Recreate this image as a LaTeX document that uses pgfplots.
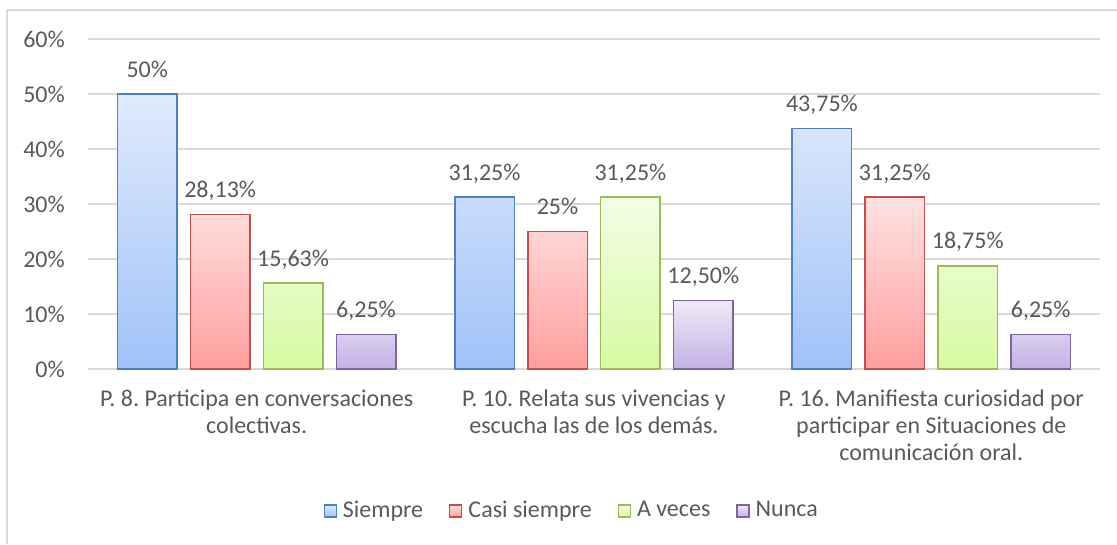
\documentclass[border=0pt]{standalone}
\usepackage{pgfplots}
\pgfplotsset{compat=1.18}
\usepackage{fontspec}
\setmainfont{Carlito}
\frenchspacing

\definecolor{txtgray}{RGB}{89,89,89}
\definecolor{gridgray}{RGB}{217,217,217}
\definecolor{bluel}{RGB}{224,234,252}
\definecolor{blued}{RGB}{160,194,249}
\definecolor{blueb}{RGB}{79,129,189}
\definecolor{redl}{RGB}{255,226,226}
\definecolor{redd}{RGB}{255,158,158}
\definecolor{redb}{RGB}{192,80,77}
\definecolor{greenl}{RGB}{243,253,231}
\definecolor{greend}{RGB}{214,250,163}
\definecolor{greenb}{RGB}{155,187,89}
\definecolor{purplel}{RGB}{239,235,247}
\definecolor{purpled}{RGB}{195,177,228}
\definecolor{purpleb}{RGB}{128,100,162}

\begin{document}
\fontsize{24}{27}\selectfont
\begin{tikzpicture}
\begin{axis}[
    at={(0pt,0pt)}, anchor=south west,
    scale only axis,
    width=1012pt, height=330pt,
    xmin=-0.5, xmax=2.5,
    ymin=0, ymax=60,
    ybar=13.4pt,
    bar width=59.5pt,
    axis line style={draw=none},
    major tick length=0pt,
    ytick={0,10,...,60},
    yticklabels={0\%,10\%,20\%,30\%,40\%,50\%,60\%},
    xtick={0,1,2},
    xticklabels={
        {P. 8. Participa en conversaciones\\colectivas.},
        {P. 10. Relata sus vivencias y\\escucha las de los demás.},
        {P. 16. Manifiesta curiosidad por\\participar en Situaciones de\\comunicación oral.}
    },
    tick label style={font=\fontsize{24}{27}\selectfont, text=txtgray, inner sep=0pt},
    yticklabel style={xshift=-23pt},
    xticklabel style={align=center, yshift=-21pt},
    ymajorgrids,
    grid style={gridgray, line width=1.4pt},
    nodes near coords,
    point meta=explicit symbolic,
    every node near coord/.append style={font=\fontsize{24}{27}\selectfont, text=txtgray, anchor=base, inner sep=0pt, yshift=17pt},
    legend columns=4,
    legend style={at={(0.478,-0.43)}, anchor=center, draw=none, fill=none,
        font=\fontsize{24}{27}\selectfont, text=txtgray,
        /tikz/every odd column/.append style={column sep=4pt},
        /tikz/every even column/.append style={column sep=24pt},
        inner sep=0pt},
    legend image code/.code={\draw[#1, line width=1.3pt] (0pt,-6pt) rectangle (12pt,6pt);},
    clip=false,
]
\addplot[draw=blueb, line width=1.5pt, top color=bluel, bottom color=blued] coordinates {
    (0,50) [50\%]
    (1,31.25) [31,25\%]
    (2,43.75) [43,75\%]
};
\addplot[draw=redb, line width=1.5pt, top color=redl, bottom color=redd] coordinates {
    (0,28.13) [28,13\%]
    (1,25) [25\%]
    (2,31.25) [31,25\%]
};
\addplot[draw=greenb, line width=1.5pt, top color=greenl, bottom color=greend] coordinates {
    (0,15.63) [15,63\%]
    (1,31.25) [31,25\%]
    (2,18.75) [18,75\%]
};
\addplot[draw=purpleb, line width=1.5pt, top color=purplel, bottom color=purpled] coordinates {
    (0,6.25) [6,25\%]
    (1,12.5) [12,50\%]
    (2,6.25) [6,25\%]
};
\legend{Siempre, Casi siempre, A veces, Nunca}
\end{axis}
\draw[gridgray, line width=1.5pt] (-81pt,-175pt) -- (-81pt,359pt) -- (1029pt,359pt);
\pgfresetboundingbox
\path (-88pt,-175pt) rectangle (1029pt,369pt);
\end{tikzpicture}
\end{document}
